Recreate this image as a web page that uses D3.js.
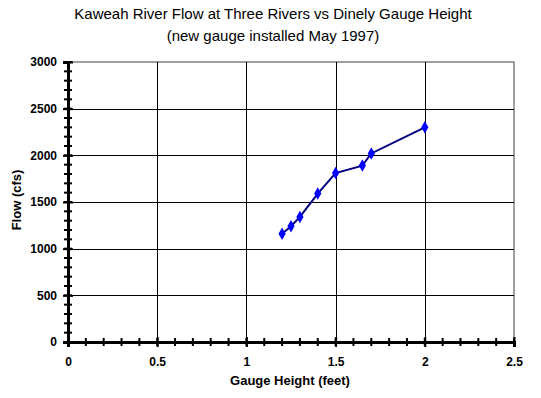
<!DOCTYPE html>
<html>
<head>
<meta charset="utf-8">
<script src="https://cdn.jsdelivr.net/npm/d3@7"></script>
<style>
    body { margin: 0; background: #fff; }
    svg { display: block; font-family: Arial, 'Liberation Sans', sans-serif; }
</style>
</head>
<body>
<svg id="chart" width="541" height="398"></svg>
<script>
// Gauge height (feet) and flow (cfs)
const gaugeHeight = [1.2, 1.25, 1.3, 1.4, 1.5, 1.65, 1.7, 2.0];
const flow = [1160, 1240, 1340, 1590, 1810, 1890, 2020, 2300];

const xTicks = [0, 0.5, 1, 1.5, 2, 2.5];
const yTicks = [0, 500, 1000, 1500, 2000, 2500, 3000];
const xMinor = d3.range(0, 2.5001, 0.1);
const yMinor = d3.range(0, 3000.1, 100);

const titleLines = ['Kaweah River Flow at Three Rivers vs Dinely Gauge Height', '(new gauge installed May 1997)'];
const xTitle = 'Gauge Height (feet)';
const yTitle = 'Flow (cfs)';

const margin = { top: 62, right: 27, bottom: 56, left: 68 };
const width = 541 - margin.left - margin.right;
const height = 398 - margin.top - margin.bottom;

const svg = d3.select('#chart');
const chart = svg.append('g').attr('transform', `translate(${margin.left}, ${margin.top})`);

const xScale = d3.scaleLinear().domain([0, 2.5]).range([0, width]);
const yScale = d3.scaleLinear().domain([0, 3000]).range([height, 0]);

// Plot area border (gray)
chart.append('rect')
    .attr('x', 0).attr('y', 0)
    .attr('width', width).attr('height', height)
    .attr('fill', 'none')
    .attr('stroke', '#808080')
    .attr('stroke-width', 1.5);

// Gridlines
chart.selectAll('.hgrid')
    .data(yTicks.filter((t) => t > 0 && t < 3000))
    .join('line')
    .attr('x1', 0).attr('x2', width)
    .attr('y1', (d) => Math.round(yScale(d)) + 0.5)
    .attr('y2', (d) => Math.round(yScale(d)) + 0.5)
    .attr('stroke', '#000').attr('stroke-width', 1);
chart.selectAll('.vgrid')
    .data(xTicks.filter((t) => t > 0 && t < 2.5))
    .join('line')
    .attr('y1', 0).attr('y2', height)
    .attr('x1', (d) => Math.round(xScale(d)) + 0.5)
    .attr('x2', (d) => Math.round(xScale(d)) + 0.5)
    .attr('stroke', '#000').attr('stroke-width', 1);

// Minor ticks
chart.selectAll('.xminor')
    .data(xMinor)
    .join('line')
    .attr('x1', (d) => xScale(d)).attr('x2', (d) => xScale(d))
    .attr('y1', height - 4).attr('y2', height + 4)
    .attr('stroke', '#000').attr('stroke-width', 2);
chart.selectAll('.yminor')
    .data(yMinor)
    .join('line')
    .attr('y1', (d) => yScale(d)).attr('y2', (d) => yScale(d))
    .attr('x1', -4).attr('x2', 4)
    .attr('stroke', '#000').attr('stroke-width', 2);

// Axes
const xAxis = d3.axisBottom(xScale).tickValues(xTicks).tickSize(5).tickPadding(10)
    .tickFormat((t) => `${t}`);
const gx = chart.append('g').attr('transform', `translate(0, ${height})`).call(xAxis);
gx.select('.domain').attr('stroke-width', 3);
gx.selectAll('.tick line').attr('stroke-width', 2).attr('y1', -5);

const yAxis = d3.axisLeft(yScale).tickValues(yTicks).tickSize(5).tickPadding(6)
    .tickFormat((t) => `${t}`);
const gy = chart.append('g').call(yAxis);
gy.select('.domain').attr('stroke-width', 3);
gy.selectAll('.tick line').attr('stroke-width', 2).attr('x1', 5);

[gx, gy].forEach((g) => g.selectAll('.tick text')
    .attr('font-size', 12).attr('font-weight', 'bold')
    .attr('font-family', 'Arial, Liberation Sans, sans-serif'));

// Series line and markers
const points = gaugeHeight.map((g, i) => [g, flow[i]]);
chart.append('path')
    .datum(points)
    .attr('fill', 'none')
    .attr('stroke', '#000080')
    .attr('stroke-width', 2)
    .attr('d', d3.line().x((d) => xScale(d[0])).y((d) => yScale(d[1])));
chart.selectAll('.marker')
    .data(points)
    .join('path')
    .attr('transform', (d) => `translate(${xScale(d[0])}, ${yScale(d[1])})`)
    .attr('d', d3.symbol(d3.symbolDiamond, 45)())
    .attr('fill', '#0000ff');

// Titles
svg.append('text')
    .attr('x', 273).attr('y', 0)
    .attr('text-anchor', 'middle')
    .attr('font-size', 15)
    .selectAll('tspan')
    .data(titleLines)
    .join('tspan')
    .attr('x', 273)
    .attr('y', (d, i) => 19 + i * 22)
    .text((d) => d);

svg.append('text')
    .attr('x', 290).attr('y', 385)
    .attr('text-anchor', 'middle')
    .attr('font-size', 13).attr('font-weight', 'bold')
    .text(xTitle);

svg.append('text')
    .attr('transform', `translate(21, ${margin.top + height / 2 - 2}) rotate(-90)`)
    .attr('text-anchor', 'middle')
    .attr('font-size', 13).attr('font-weight', 'bold')
    .text(yTitle);
</script>
</body>
</html>
